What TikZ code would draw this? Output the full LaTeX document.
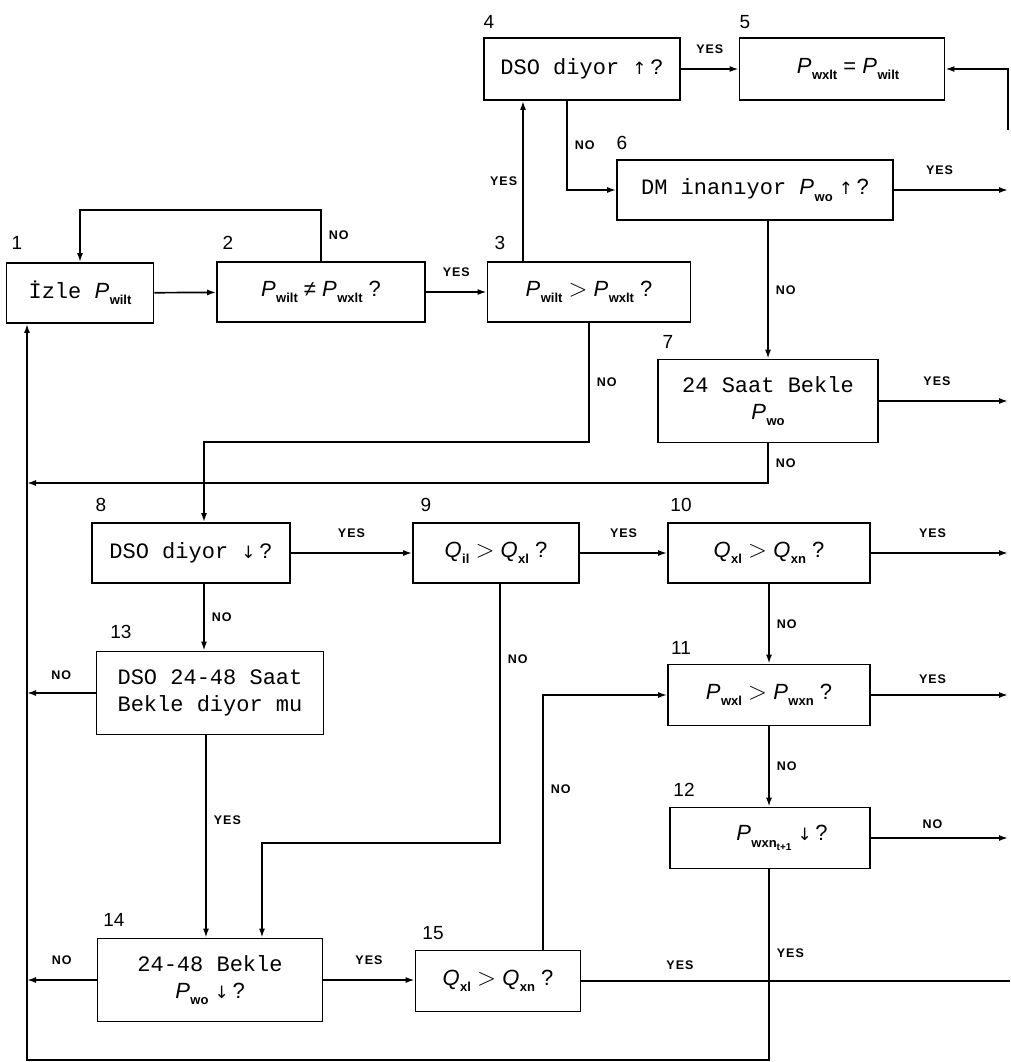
\documentclass[tikz,border=0pt]{standalone}
\usepackage{fontspec}
\setmainfont{Liberation Sans}
\newfontfamily\boxfont{Liberation Mono}
\newfontfamily\symfont{DejaVu Sans}
\newfontfamily\lblfont[LetterSpace=8]{Liberation Sans}
\usetikzlibrary{positioning, arrows.meta}

% variable with bold subscript
\newcommand{\vsub}[2]{{\rmfamily\itshape #1}\kern0.5pt\raisebox{-0.55ex}{\rmfamily\fontsize{13}{13}\selectfont\bfseries #2}}
\newcommand{\up}{{\symfont\fontsize{17}{17}\selectfont ↑}}
\newcommand{\dn}{{\symfont\fontsize{17}{17}\selectfont ↓}}
\newcommand{\gt}{{\fontsize{30}{30}\selectfont$>$}}

\begin{document}
\begin{tikzpicture}[x=1pt, y=-1pt,
        box/.style={draw, rectangle, line width=1.7pt, inner sep=2pt, align=center, font=\boxfont\fontsize{22}{27}\selectfont},
        num/.style={inner sep=0pt, font=\fontsize{19}{19}\selectfont},
        lbl/.style={inner sep=1pt, font=\lblfont\bfseries\fontsize{12.5}{13}\selectfont},
        arrow/.style={-{Latex[length=9pt,width=6pt]}, line width=1.7pt},
        line/.style={line width=1.7pt}
    ]
    \useasboundingbox (0,0) rectangle (1010,1062);

    % Nodes
    \node[box, minimum width=147pt, minimum height=60pt] (b1) at (80,293) {İzle {\rmfamily\vsub{P}{wilt}}};
    \node[box, minimum width=208pt, minimum height=60pt] (b2) at (321,292) {\rmfamily\vsub{P}{wilt} ≠ \vsub{P}{wxlt} ?};
    \node[box, minimum width=203pt, minimum height=60pt] (b3) at (589,292) {\rmfamily\vsub{P}{wilt} \gt{} \vsub{P}{wxlt} ?};
    \node[box, minimum width=196pt, minimum height=62pt] (b4) at (582,69) {DSO diyor \up{}\,?};
    \node[box, minimum width=205pt, minimum height=62pt] (b5) at (842,69) {\rmfamily\hspace{12pt}\vsub{P}{wxlt} = \vsub{P}{wilt}};
    \node[box, minimum width=276pt, minimum height=60pt] (b6) at (755,190) {DM inanıyor {\rmfamily\vsub{P}{wo} \up{}\,?}};
    \node[box, minimum width=220pt, minimum height=83pt] (b7) at (768,401) {24 Saat Bekle\\{\rmfamily\vsub{P}{wo}}};
    \node[box, minimum width=198pt, minimum height=60pt] (b8) at (191,553) {DSO diyor \dn{}\,?};
    \node[box, minimum width=166pt, minimum height=60pt] (b9) at (496,553) {\rmfamily\vsub{Q}{il} \gt{} \vsub{Q}{xl} ?};
    \node[box, minimum width=202pt, minimum height=60pt] (b10) at (769,553) {\rmfamily\vsub{Q}{xl} \gt{} \vsub{Q}{xn} ?};
    \node[box, minimum width=202pt, minimum height=61pt] (b11) at (769,695) {\rmfamily\vsub{P}{wxl} \gt{} \vsub{P}{wxn} ?};
    \node[box, minimum width=200pt, minimum height=61pt] (b12) at (770,838) {\rmfamily\hspace{24pt}\vsub{P}{wxn\raisebox{-0.5ex}{\fontsize{10}{10}\selectfont t+1}} \dn{}\,?};
    \node[box, minimum width=227pt, minimum height=83pt] (b13) at (210,693) {DSO 24-48 Saat\\Bekle diyor mu};
    \node[box, minimum width=225pt, minimum height=83pt] (b14) at (210,980) {24-48 Bekle\\{\rmfamily\vsub{P}{wo} \dn{}\,?}};
    \node[box, minimum width=165pt, minimum height=61pt] (b15) at (498,981) {\rmfamily\vsub{Q}{xl} \gt{} \vsub{Q}{xn} ?};

    % Box numbers
    \node[num] (n1) at (17,243) {1};
    \node[num] (n2) at (228,243) {2};
    \node[num] (n3) at (500,243) {3};
    \node[num] (n4) at (489,22) {4};
    \node[num] (n5) at (745,22) {5};
    \node[num] (n6) at (622,143) {6};
    \node[num] (n7) at (668,342) {7};
    \node[num] (n8) at (101,505) {8};
    \node[num] (n9) at (426,505) {9};
    \node[num] (n10) at (681,505) {10};
    \node[num] (n11) at (681,648) {11};
    \node[num] (n12) at (684,790) {12};
    \node[num] (n13) at (121,632) {13};
    \node[num] (n14) at (114,920) {14};
    \node[num] (n15) at (433,933) {15};

    % Bus ends
    \coordinate (rbus) at (1008,130);
    \coordinate (lbot) at (27,1060);
    \coordinate (lmid) at (27,483);
    \coordinate (rend) at (1010,0);

    % Top row
    \draw[arrow] (b1) -- (b2);
    \draw[arrow] (b2) -- node[lbl, above=14pt] {YES} (b3);
    \draw[arrow] (b2.north) -- node[lbl, right=6pt] {NO} ++(0,-51) -| (b1.north);
    \draw[arrow] ([xshift=-66pt]b3.north) -- node[lbl, left=4pt] {YES} ([xshift=-66pt]b3.north |- b4.south);
    \draw[arrow] (b4) -- node[lbl, above=14pt] {YES} (b5);
    \draw[arrow] ([xshift=-15pt]b4.south) |- node[lbl, right=6pt, pos=0.25] {NO} (b6.west);
    \draw[arrow] (rbus) |- (b5.east);
    \draw[arrow] (b6.east) -- node[lbl, above=14pt, pos=0.4] {YES} (b6.east -| rbus);
    \draw[arrow] (b6.south -| b7.north) -- node[lbl, right=6pt] {NO} (b7.north);
    \draw[arrow] (b7.east) -- node[lbl, above=14pt, pos=0.45] {YES} (b7.east -| rbus);
    \draw[arrow] (b7.south) |- node[lbl, right=6pt, pos=0.25] {NO} (lmid);
    \draw[arrow] (b3.south) -- node[lbl, right=6pt] {NO} ++(0,119) -| ([xshift=13pt]b8.north);

    % Middle row
    \draw[arrow] (b8) -- node[lbl, above=14pt] {YES} (b9);
    \draw[arrow] (b9) -- node[lbl, above=14pt] {YES} (b10);
    \draw[arrow] (b10.east) -- node[lbl, above=14pt, pos=0.45] {YES} (b10.east -| rbus);
    \draw[arrow] (b10) -- node[lbl, right=6pt] {NO} (b11);
    \draw[arrow] (b11.east) -- node[lbl, above=10pt, pos=0.45] {YES} (b11.east -| rbus);
    \draw[arrow] (b11.south) -- node[lbl, right=6pt] {NO} (b11.south |- b12.north);
    \draw[arrow] (b12.east) -- node[lbl, above=8pt, pos=0.45] {NO} (b12.east -| rbus);
    \draw[arrow] (b12.south -| b11.south) |- node[lbl, right=6pt, pos=0.22] {YES} (lbot) -- (lbot |- b1.south);
    \draw[arrow] ([xshift=13pt]b8.south) -- node[lbl, right=6pt] {NO} ([xshift=13pt]b8.south |- b13.north);
    \draw[arrow] (b13.west) -- node[lbl, above=12pt] {NO} (b13.west -| lbot);
    \draw[arrow] ([xshift=-4pt]b13.south) -- node[lbl, right=6pt, pos=0.42] {YES} ([xshift=-4pt]b13.south |- b14.north);
    \draw[arrow] ([xshift=4pt]b9.south) -- node[lbl, right=6pt, pos=0.29] {NO} ++(0,259) -| ([xshift=52pt]b14.north);

    % Bottom row
    \draw[arrow] (b14.west) -- node[lbl, above=14pt] {NO} (b14.west -| lbot);
    \draw[arrow] (b14.east) -- node[lbl, above=14pt] {YES} (b14.east -| b15.west);
    \draw[line] (b15.east) -- node[lbl, above=10pt, pos=0.23] {YES} (b15.east -| rend);
    \draw[arrow] ([xshift=45pt]b15.north) |- node[lbl, right=6pt, pos=0.315] {NO} (b11.west);
\end{tikzpicture}
\end{document}
